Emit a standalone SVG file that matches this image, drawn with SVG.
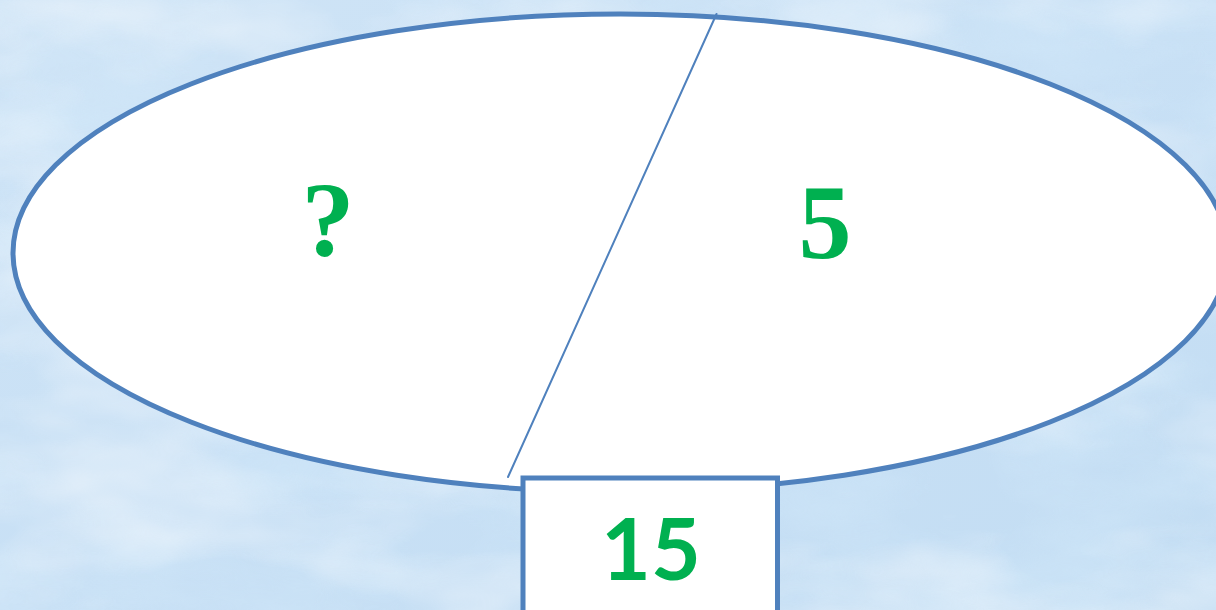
<svg xmlns="http://www.w3.org/2000/svg" width="1216" height="610" viewBox="0 0 1216 610">
  <defs>
    <filter id="cloudsLight" x="0" y="0" width="100%" height="100%">
      <feTurbulence type="fractalNoise" baseFrequency="0.004 0.009" numOctaves="4" seed="7"/>
      <feColorMatrix type="matrix" values="0 0 0 0 1  0 0 0 0 1  0 0 0 0 1  2.2 0 0 0 -0.95"/>
    </filter>
    <filter id="cloudsDark" x="0" y="0" width="100%" height="100%">
      <feTurbulence type="fractalNoise" baseFrequency="0.005 0.011" numOctaves="4" seed="23"/>
      <feColorMatrix type="matrix" values="0 0 0 0 0.64  0 0 0 0 0.81  0 0 0 0 0.95  2.2 0 0 0 -0.95"/>
    </filter>
    <linearGradient id="sky" x1="0" y1="0" x2="1" y2="1">
      <stop offset="0" stop-color="#CFE4F6"/>
      <stop offset="0.5" stop-color="#C8E0F5"/>
      <stop offset="1" stop-color="#C3DDF3"/>
    </linearGradient>
  </defs>
  <style>
    .outline { stroke: #4F81BD; fill: #FFFFFF; }
    .label { fill: #00B050; font-weight: bold; text-anchor: middle; }
    .serif { font-family: "Liberation Serif", "Times New Roman", serif; font-size: 106px; }
    .sans { font-family: Lato, "Liberation Sans", Arial, sans-serif; font-size: 86px; }
  </style>

  <g id="background">
    <rect x="0" y="0" width="1216" height="610" fill="url(#sky)"/>
    <rect x="0" y="0" width="1216" height="610" filter="url(#cloudsDark)" opacity="0.6"/>
    <rect x="0" y="0" width="1216" height="610" filter="url(#cloudsLight)" opacity="0.55"/>
  </g>

  <g id="whole-ellipse">
    <ellipse class="outline" cx="620.5" cy="253" rx="607.5" ry="239" stroke-width="5"/>
  </g>

  <g id="connectors">
    <line x1="716.5" y1="14" x2="508" y2="477" stroke="#4F81BD" stroke-width="2" stroke-linecap="round"/>
  </g>

  <g id="part-unknown">
    <text class="label serif" x="328" y="256">?</text>
  </g>

  <g id="part-five">
    <text class="label serif" x="825" y="258">5</text>
  </g>

  <g id="total-box">
    <rect class="outline" x="523" y="478" width="254.5" height="150" stroke-width="5"/>
    <text class="label sans" x="651" y="580">15</text>
  </g>
</svg>
